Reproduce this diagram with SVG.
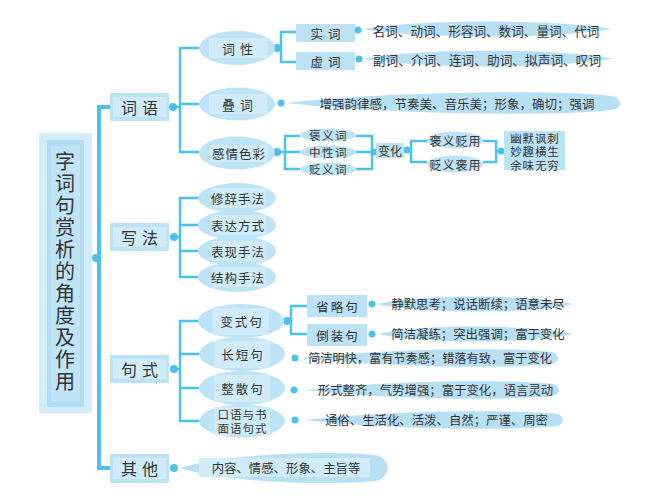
<svg xmlns="http://www.w3.org/2000/svg" width="668" height="504" viewBox="0 0 668 504">
<style>
.ln{fill:none;stroke:#4dc1ee;stroke-width:2.5}
.main{fill:none;stroke:#4dc1ee;stroke-width:4}
.dot{fill:#4dc1ee}
.box{fill:#bce2f6}
.in{fill:#d0ebfa}
.el{fill:#bde3f6}
.lens{fill:#b8e0f5}
text{font-family:"Noto Sans CJK SC","Noto Sans CJK TC",sans-serif;fill:#333;text-anchor:middle;dominant-baseline:central}
.t1{font-size:16px;letter-spacing:5px}
.t2{font-size:12.5px;letter-spacing:1px}
.t3{font-size:12.4px}
.t4{font-size:12px}
.t5{font-size:11.5px}
.vt{font-size:20px;letter-spacing:2px;writing-mode:vertical-rl;text-anchor:start}
</style>
<rect width="668" height="504" fill="#ffffff"/>
<g id="connectors">
<path class="main" d="M110,107 H99 V468 H110"/>
<path class="ln" d="M172,107 H180 M199,48 H180 V152 H199 M180,104 H199"/>
<path class="ln" d="M277,48 H281 M296,32 H281 V62 H296"/>
<path class="ln" d="M277,152 H285 M300,136 H285 V169 H300 M285,152 H300"/>
<path class="ln" d="M356,136 H372 V169 H356 M356,152 H376"/>
<path class="ln" d="M404,150 H411 M427,141 H411 V162 H427"/>
<path class="ln" d="M483,141 H496 V162 H483 M496,151 H504"/>
<path class="ln" d="M172,237 H180 M199,198 H180 V277 H199 M180,225 H199 M180,251 H199"/>
<path class="ln" d="M172,369 H180 M199,321 H180 V421 H199 M180,354 H199 M180,388 H199"/>
<path class="ln" d="M284,321 H291 M307,306 H291 V334 H307"/>
<circle class="dot" cx="96" cy="258" r="4"/>
<circle class="dot" cx="173" cy="107" r="4"/>
<circle class="dot" cx="174" cy="237" r="4"/>
<circle class="dot" cx="174" cy="369" r="4"/>
<circle class="dot" cx="174" cy="468" r="4"/>
<circle class="dot" cx="277" cy="48" r="4"/>
<circle class="dot" cx="358" cy="30" r="3.5"/>
<circle class="dot" cx="359" cy="59" r="3.5"/>
<circle class="dot" cx="281" cy="103" r="3.5"/>
<circle class="dot" cx="277" cy="152" r="4"/>
<circle class="dot" cx="374" cy="152" r="3.5"/>
<circle class="dot" cx="407" cy="150" r="3.5"/>
<circle class="dot" cx="501" cy="151" r="3.5"/>
<circle class="dot" cx="287" cy="321" r="4"/>
<circle class="dot" cx="372" cy="304" r="3.5"/>
<circle class="dot" cx="372" cy="334" r="3.5"/>
<circle class="dot" cx="295" cy="358" r="3.5"/>
<circle class="dot" cx="294" cy="390" r="3.5"/>
<circle class="dot" cx="295" cy="420" r="3.5"/>
</g>
<g id="root">
<rect x="39" y="133" width="53" height="280" fill="#d4edfa"/>
<rect x="47" y="140" width="37" height="267" fill="#b3ddf4"/>
<rect x="51" y="146" width="29" height="255" fill="#c0e4f7"/>
<text class="vt" x="65" y="151">字词句赏析的角度及作用</text>
</g>
<g id="ciyu">
<rect class="box" x="110" y="93" width="59" height="28"/>
<rect class="in" x="113" y="97" width="53" height="20"/>
<text class="t1" x="142" y="107">词语</text>
</g>
<g id="xiefa">
<rect class="box" x="110" y="223" width="59" height="28"/>
<rect class="in" x="113" y="227" width="53" height="20"/>
<text class="t1" x="142" y="237">写法</text>
</g>
<g id="jushi">
<rect class="box" x="110" y="355" width="59" height="28"/>
<rect class="in" x="113" y="359" width="53" height="20"/>
<text class="t1" x="142" y="369">句式</text>
</g>
<g id="qita">
<rect class="box" x="110" y="454" width="59" height="29"/>
<rect class="in" x="113" y="458" width="53" height="21"/>
<text class="t1" x="142" y="468">其他</text>
</g>
<g id="cixing">
<ellipse class="el" cx="237" cy="48" rx="38" ry="17"/>
<rect class="in" x="209" y="38" width="58" height="20"/>
<text class="t1" style="font-size:13px;letter-spacing:5px" x="240" y="48">词性</text>
</g>
<g id="shici">
<rect class="box" x="296" y="24" width="59" height="18"/>
<text class="t2" style="letter-spacing:5px" x="328" y="33">实词</text>
</g>
<g id="xuci">
<rect class="box" x="296" y="52" width="59" height="18"/>
<text class="t2" style="letter-spacing:5px" x="328" y="61">虚词</text>
</g>
<g id="shici-list">
<path class="lens" d="M363,29 C420,19 555,19 612,29 C555,39 420,39 363,29 Z"/>
<text class="t3" style="font-size:12.6px" x="486" y="30">名词、动词、形容词、数词、量词、代词</text>
</g>
<g id="xuci-list">
<path class="lens" d="M363,58.5 C420,48 555,48 613,58.5 C555,69 420,69 363,58.5 Z"/>
<text class="t3" style="font-size:12.7px" x="487" y="59">副词、介词、连词、助词、拟声词、叹词</text>
</g>
<g id="dieci">
<ellipse class="el" cx="237" cy="104" rx="38" ry="16.5"/>
<rect class="in" x="209" y="94" width="58" height="20"/>
<text class="t1" style="font-size:13px;letter-spacing:5px" x="240" y="104">叠词</text>
</g>
<g id="dieci-list">
<path class="lens" d="M287,103 C400,90 590,90 615,97 C622,101 622,106 615,109 C590,116 400,116 287,103 Z"/>
<text class="t3" style="font-size:12.5px" x="457" y="103">增强韵律感，节奏美、音乐美；形象，确切；强调</text>
</g>
<g id="ganqing">
<ellipse class="el" cx="237" cy="153" rx="38" ry="16.5"/>
<rect class="in" x="210" y="145" width="58" height="17"/>
<text class="t2" x="239" y="153">感情色彩</text>
</g>
<g id="baoyi">
<ellipse class="el" cx="328" cy="135" rx="28" ry="6.5"/>
<text class="t5" style="letter-spacing:1.5px" x="328.5" y="135">褒义词</text>
</g>
<g id="zhongxing">
<ellipse class="el" cx="328" cy="152" rx="28" ry="6.5"/>
<text class="t5" style="letter-spacing:1.5px" x="328.5" y="152">中性词</text>
</g>
<g id="bianyi">
<ellipse class="el" cx="328" cy="169" rx="28" ry="6.5"/>
<text class="t5" style="letter-spacing:1.5px" x="328.5" y="169">贬义词</text>
</g>
<g id="bianhua">
<rect class="box" x="376" y="143" width="28" height="15"/>
<text class="t4" x="390" y="150">变化</text>
</g>
<g id="baoyibianyong">
<ellipse class="el" cx="455" cy="140" rx="28" ry="8.5"/>
<text class="t4" style="letter-spacing:1px" x="455.5" y="140">褒义贬用</text>
</g>
<g id="bianyibaoyong">
<ellipse class="el" cx="455" cy="164" rx="28" ry="8.5"/>
<text class="t4" style="letter-spacing:1px" x="455.5" y="164">贬义褒用</text>
</g>
<g id="youmo">
<rect class="box" x="504" y="131" width="61" height="39"/>
<text class="t5" style="letter-spacing:0.8px"><tspan x="534.9" y="137.5">幽默讽刺</tspan><tspan x="534.9" y="151">妙趣横生</tspan><tspan x="534.9" y="164.5">余味无穷</tspan></text>
</g>
<g id="xiuci">
<ellipse class="el" cx="237" cy="198" rx="39" ry="15"/>
<rect class="in" x="212" y="188" width="54" height="20"/>
<text class="t2" x="238" y="198">修辞手法</text>
</g>
<g id="biaoda">
<ellipse class="el" cx="237" cy="225" rx="39" ry="15"/>
<rect class="in" x="212" y="215" width="54" height="20"/>
<text class="t2" x="238" y="225">表达方式</text>
</g>
<g id="biaoxian">
<ellipse class="el" cx="237" cy="251" rx="39" ry="15"/>
<rect class="in" x="212" y="241" width="54" height="20"/>
<text class="t2" x="238" y="251">表现手法</text>
</g>
<g id="jiegou">
<ellipse class="el" cx="237" cy="277" rx="39" ry="15"/>
<rect class="in" x="212" y="267" width="54" height="20"/>
<text class="t2" x="238" y="277">结构手法</text>
</g>
<g id="bianshi">
<ellipse class="el" cx="241" cy="321" rx="43" ry="17"/>
<rect class="in" x="213" y="308" width="56" height="27"/>
<text class="t2" style="letter-spacing:2px" x="242" y="321">变式句</text>
</g>
<g id="changduan">
<ellipse class="el" cx="242" cy="354" rx="43" ry="17"/>
<rect class="in" x="214" y="341" width="56" height="27"/>
<text class="t2" style="letter-spacing:2px" x="243" y="354">长短句</text>
</g>
<g id="zhengsan">
<ellipse class="el" cx="242" cy="388" rx="43" ry="17"/>
<rect class="in" x="214" y="375" width="56" height="27"/>
<text class="t2" style="letter-spacing:2px" x="243" y="388">整散句</text>
</g>
<g id="kouyu">
<ellipse class="el" cx="242" cy="421" rx="43" ry="16.5"/>
<rect class="in" x="214" y="407" width="56" height="28"/>
<text class="t5" style="letter-spacing:1px"><tspan x="242.5" y="414">口语与书</tspan><tspan x="242.5" y="428">面语句式</tspan></text>
</g>
<g id="shenglue">
<rect class="box" x="307" y="295" width="60" height="22"/>
<text class="t2" style="letter-spacing:2px" x="338" y="306">省略句</text>
</g>
<g id="daozhuang">
<rect class="box" x="307" y="324" width="60" height="22"/>
<text class="t2" style="letter-spacing:2px" x="338" y="335">倒装句</text>
</g>
<g id="shenglue-list">
<path class="lens" d="M378,304 C420,294 530,294 573,304 C530,314 420,314 378,304 Z"/>
<text class="t3" x="478" y="304">静默思考；说话断续；语意未尽</text>
</g>
<g id="daozhuang-list">
<path class="lens" d="M378,334 C420,324 530,324 573,334 C530,344 420,344 378,334 Z"/>
<text class="t3" x="478" y="334">简洁凝练；突出强调；富于变化</text>
</g>
<g id="changduan-list">
<path class="lens" d="M302,358 C400,347 520,348 552,352 C560,354 560,362 552,364 C520,368 400,369 302,358 Z"/>
<text class="t3" style="font-size:12.2px" x="430" y="358">简洁明快，富有节奏感；错落有致，富于变化</text>
</g>
<g id="zhengsan-list">
<path class="lens" d="M305,390 C400,379 520,380 553,384 C561,386 561,394 553,396 C520,400 400,401 305,390 Z"/>
<text class="t3" x="435.5" y="390">形式整齐，气势增强；富于变化，语言灵动</text>
</g>
<g id="kouyu-list">
<path class="lens" d="M305,420 C400,409 525,410 557,414 C565,416 565,424 557,426 C525,430 400,431 305,420 Z"/>
<text class="t3" x="436.5" y="420">通俗、生活化、活泼、自然；严谨、周密</text>
</g>
<g id="qita-list">
<path class="lens" d="M180,468 C230,452 340,451 375,455 C392,458 392,478 375,481 C340,485 230,484 180,468 Z"/>
<rect class="in" x="199" y="458" width="171" height="19"/>
<text class="t3" x="286" y="468">内容、情感、形象、主旨等</text>
</g>
</svg>
